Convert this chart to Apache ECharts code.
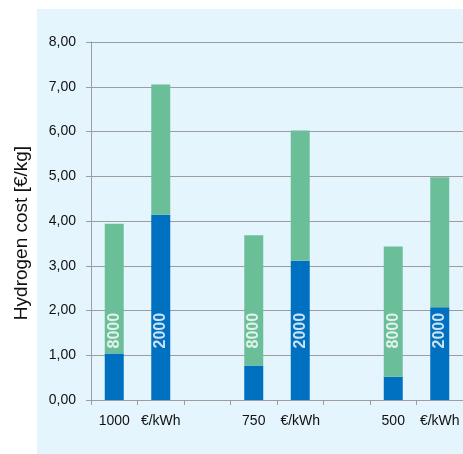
<!DOCTYPE html>
<html>
<head>
<meta charset="utf-8">
<script src="https://cdn.jsdelivr.net/npm/echarts@6/dist/echarts.min.js"></script>
<style>
  html, body { margin: 0; padding: 0; background: #ffffff; }
  #chart { width: 463px; height: 454px; }
</style>
</head>
<body>
<div id="chart"></div>
<script>
// Category slots: cost level, unit, and an empty spacer between groups
const categories = ['1000', '€/kWh', '', '750', '€/kWh', '', '500', '€/kWh'];
// Lower (blue) part of each stacked bar, €/kg
const baseCost = [1.04, 4.14, null, 0.77, 3.11, null, 0.52, 2.07];
// Upper (green) part of each stacked bar, €/kg
const extraCost = [2.90, 2.91, null, 2.91, 2.91, null, 2.91, 2.91];
// Operating hours written inside each bar, and the height where that text sits
const hoursText = ['8000', '2000', '', '8000', '2000', '', '8000', '2000'];
const hoursTextHeight = [1.55, 1.55, null, 1.55, 1.55, null, 1.55, 1.55];
// Value axis ticks
const yTicks = [0, 1, 2, 3, 4, 5, 6, 7, 8];

const chart = echarts.init(document.getElementById('chart'), null, { renderer: 'canvas' });
const gridColor = '#9d9d9d';
const textFont = 'Liberation Sans, Arial, sans-serif';

chart.setOption({
  animation: false,
  backgroundColor: '#ffffff',
  graphic: [
    {
      type: 'rect',
      z: -10,
      shape: { x: 37, y: 9, width: 430, height: 450 },
      style: { fill: '#e5f5fd' },
      silent: true
    },
    {
      type: 'text',
      z: 10,
      x: 22,
      y: 233,
      rotation: Math.PI / 2,
      style: {
        text: 'Hydrogen cost [€/kg]',
        fontFamily: textFont,
        fontSize: 19,
        fill: '#111111',
        align: 'center',
        verticalAlign: 'middle'
      }
    }
  ],
  grid: { left: 91, right: -2, top: 42, bottom: 54, containLabel: false },
  xAxis: {
    type: 'category',
    data: categories,
    boundaryGap: true,
    axisLine: { show: true, lineStyle: { color: gridColor, width: 1 } },
    axisTick: { show: true, length: 5, lineStyle: { color: gridColor } },
    axisLabel: {
      color: '#111111',
      fontFamily: textFont,
      fontSize: 14,
      margin: 14,
      interval: 0
    },
    splitLine: { show: false }
  },
  yAxis: {
    type: 'value',
    min: yTicks[0],
    max: yTicks[yTicks.length - 1],
    interval: 1,
    axisLine: { show: true, lineStyle: { color: gridColor, width: 1 } },
    axisTick: { show: true, inside: false, length: 5, lineStyle: { color: gridColor } },
    axisLabel: {
      color: '#111111',
      fontFamily: textFont,
      fontSize: 14,
      margin: 15,
      formatter: v => v.toFixed(2).replace('.', ',')
    },
    splitLine: { show: true, lineStyle: { color: gridColor, width: 1 } }
  },
  series: [
    {
      name: 'base',
      type: 'bar',
      stack: 'cost',
      data: baseCost,
      barWidth: 19,
      itemStyle: { color: '#0070c0' }
    },
    {
      name: 'extra',
      type: 'bar',
      stack: 'cost',
      data: extraCost,
      barWidth: 19,
      itemStyle: { color: '#6bbf98' }
    },
    {
      name: 'hours',
      type: 'scatter',
      z: 6,
      symbolSize: 0,
      data: hoursTextHeight,
      label: {
        show: true,
        position: 'inside',
        rotate: 90,
        color: '#ffffff',
        fontFamily: textFont,
        fontWeight: 'bold',
        fontSize: 16,
        formatter: p => hoursText[p.dataIndex]
      }
    }
  ]
});
</script>
</body>
</html>
